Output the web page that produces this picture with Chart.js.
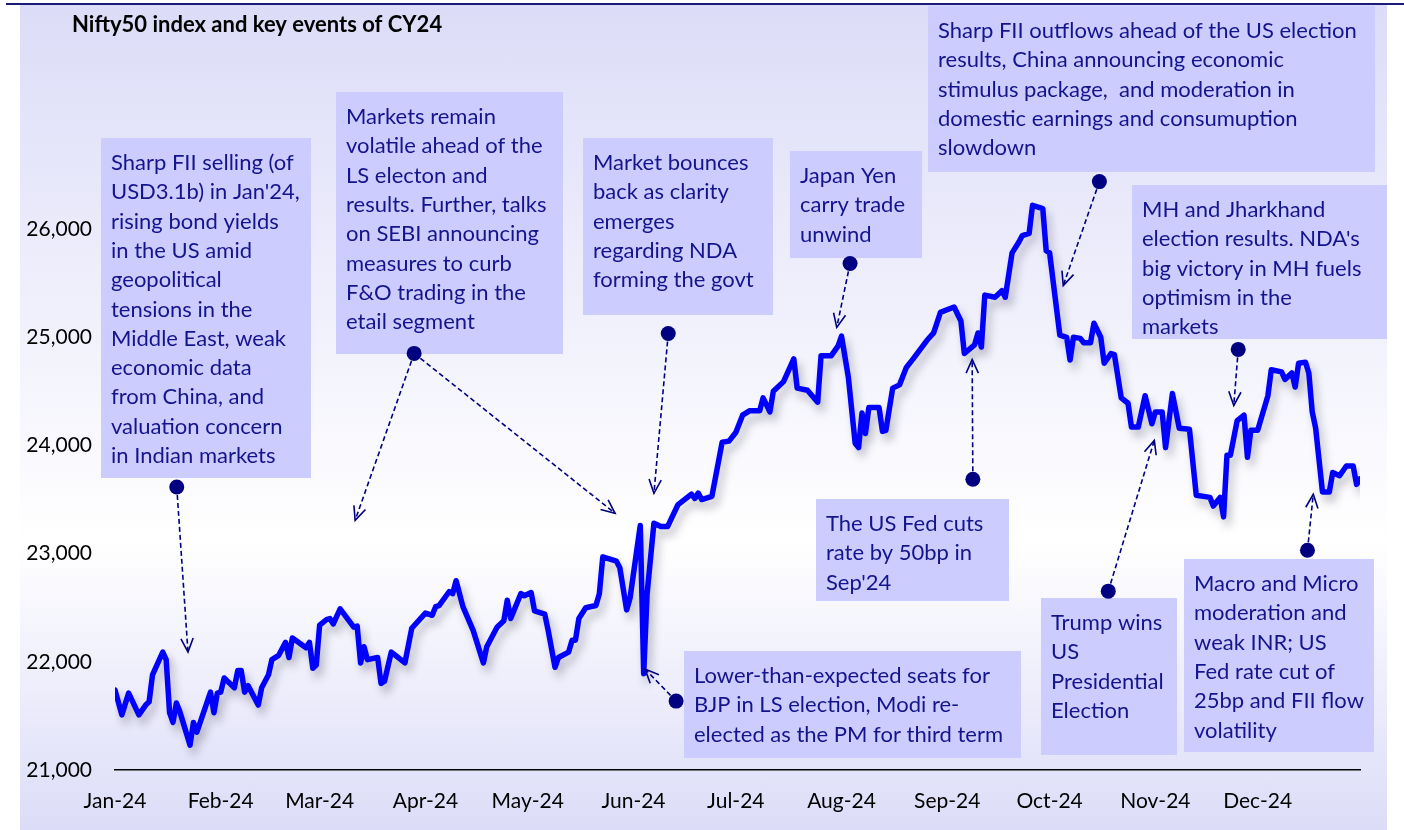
<!DOCTYPE html>
<html>
<head>
<meta charset="utf-8">
<script src="https://cdn.jsdelivr.net/npm/chart.js@4.4.1/dist/chart.umd.min.js"></script>
<style>
  html, body { margin: 0; padding: 0; background: #fff; }
  #wrap { position: relative; width: 1404px; height: 830px; overflow: hidden; }
  #panel { position: absolute; left: 20px; top: 5px; width: 1367px; height: 825px;
    background: linear-gradient(to bottom, #DCDCF8 0%, #FFFFFF 65%, #DCDCF8 100%); }
  #topline { position: absolute; left: 6px; top: 3px; width: 1398px; height: 2px; background: #1A1A7A; }
  canvas { position: absolute; left: 0; top: 0; }
</style>
</head>
<body>
<div id="wrap">
  <div id="panel"></div>
  <div id="topline"></div>
  <canvas id="niftyChart" width="1404" height="830"></canvas>
</div>
<script>
// days since 1 Jan 2024 for each plotted close
const tradeDays = [
  0, 2, 4, 7, 9, 10, 11, 14, 15, 16, 17, 18, 19, 22, 23, 24, 28, 29, 30, 31,
  32, 35, 36, 37, 38, 39, 42, 43, 45, 46, 48, 50, 51, 52, 56, 57, 58, 59, 60, 62,
  63, 64, 66, 70, 71, 72, 73, 74, 77, 78, 79, 81, 85, 87, 91, 93, 94, 95, 98, 99,
  100, 102, 105, 108, 109, 112, 114, 115, 116, 119, 120, 122, 123, 126, 127, 129, 130, 133, 134, 135,
  136, 138, 141, 142, 143, 147, 148, 150, 151, 154, 155, 156, 158, 160, 162, 165, 169, 170, 171, 172,
  175, 178, 180, 182, 184, 186, 189, 190, 192, 193, 196, 199, 200, 203, 206, 207, 210, 212, 213, 215,
  217, 218, 219, 220, 221, 224, 225, 226, 228, 230, 232, 234, 238, 240, 242, 246, 248, 249, 252, 253,
  254, 255, 258, 260, 261, 263, 265, 266, 268, 269, 272, 273, 274, 277, 279, 280, 281, 283, 284, 286,
  287, 289, 290, 292, 293, 295, 297, 298, 300, 302, 304, 305, 307, 308, 310, 312, 315, 317, 321, 322,
  324, 325, 326, 327, 329, 331, 332, 333, 335, 338, 339, 342, 343, 345, 346, 347, 349, 350, 351, 352,
  354, 356, 357, 359, 361, 363, 364, 365
];

// Nifty50 close
const niftyClose = [
  21740, 21510, 21710, 21510, 21600, 21630, 21880, 22090, 22020, 21530, 21440, 21620, 21540, 21230, 21440, 21350, 21720, 21530, 21710, 21720,
  21850, 21760, 21920, 21920, 21720, 21780, 21600, 21760, 21880, 22020, 22060, 22180, 22040, 22220, 22130, 22180, 21940, 21970, 22340, 22390,
  22400, 22350, 22490, 22320, 22330, 21990, 22140, 22020, 22040, 21800, 21820, 22090, 21990, 22310, 22450, 22430, 22510, 22520, 22650, 22630,
  22750, 22510, 22290, 21990, 22140, 22320, 22380, 22570, 22400, 22630, 22610, 22640, 22470, 22440, 22290, 21950, 22040, 22090, 22200, 22200,
  22400, 22500, 22520, 22630, 22970, 22930, 22870, 22480, 22590, 23260, 21890, 22630, 23280, 23250, 23250, 23450, 23550, 23510, 23560, 23500,
  23530, 24030, 24040, 24120, 24280, 24320, 24320, 24440, 24310, 24500, 24590, 24800, 24530, 24510, 24400, 24830, 24830, 24920, 25010, 24630,
  24020, 23980, 24300, 24110, 24350, 24350, 24130, 24140, 24530, 24560, 24720, 24800, 24970, 25040, 25230, 25280, 25150, 24850, 24930, 25040,
  24910, 25390, 25370, 25430, 25370, 25780, 25880, 25940, 25960, 26220, 26190, 25800, 25780, 25020, 25000, 24790, 25000, 24990, 24950, 24950,
  25130, 25000, 24760, 24850, 24840, 24440, 24390, 24170, 24170, 24460, 24200, 24310, 24310, 23980, 24480, 24160, 24150, 23540, 23520, 23440,
  23520, 23340, 23910, 23910, 24230, 24280, 23890, 24140, 24140, 24460, 24700, 24680, 24610, 24670, 24540, 24760, 24770, 24670, 24310, 24160,
  23570, 23570, 23750, 23720, 23810, 23810, 23640, 23690
];

const monthStartDays = [0, 31, 60, 91, 121, 152, 182, 213, 244, 274, 305, 335]; // x tick positions
const monthLabels = ['Jan-24', 'Feb-24', 'Mar-24', 'Apr-24', 'May-24', 'Jun-24', 'Jul-24', 'Aug-24', 'Sep-24', 'Oct-24', 'Nov-24', 'Dec-24'];
const valueTicks = [21000, 22000, 23000, 24000, 25000, 26000];

const chartTitle = 'Nifty50 index and key events of CY24';

// event notes: box in page px, dot and arrow tips in chart values (day, index level)
const eventNotes = [
  { box: [101, 138, 210, 340], lines: ['Sharp FII selling (of', "USD3.1b) in Jan'24,", 'rising bond yields', 'in the US amid', 'geopolitical', 'tensions in the', 'Middle East, weak', 'economic data', 'from China, and', 'valuation concern', 'in Indian markets'],
    dot: [18.1, 23616], tips: [[21.4, 22090]] },
  { box: [336, 92, 227, 262], lines: ['Markets remain', 'volatile ahead of the', 'LS electon and', 'results. Further, talks', 'on SEBI announcing', 'measures to curb', 'F&O trading in the', 'etail segment'],
    dot: [87.7, 24851], tips: [[70.4, 23308], [146.6, 23373]] },
  { box: [583, 138, 190, 177], lines: ['Market bounces', 'back as clarity', 'emerges', 'regarding NDA', 'forming the govt'],
    dot: [162.2, 25035], tips: [[158, 23558]] },
  { box: [790, 151, 132, 107], lines: ['Japan Yen', 'carry trade', 'unwind'],
    dot: [215.5, 25682], tips: [[211.6, 25091]] },
  { box: [928, 6, 447, 166], lines: ['Sharp FII outflows ahead of the US election', 'results, China announcing economic', 'stimulus package,  and moderation in', 'domestic earnings and consumuption', 'slowdown'],
    dot: [288.6, 26439], tips: [[278, 25478]] },
  { box: [1132, 185, 255, 154], lines: ['MH and Jharkhand', "election results. NDA's", 'big victory in MH fuels', 'optimism in the', 'markets'],
    dot: [329.3, 24888], tips: [[328, 24370]] },
  { box: [816, 499, 193, 102], lines: ['The US Fed cuts', 'rate by 50bp in', "Sep'24"],
    dot: [251.5, 23687], tips: [[251.3, 24795]] },
  { box: [1041, 598, 136, 157], lines: ['Trump wins', 'US', 'Presidential', 'Election'],
    dot: [291.2, 22653], tips: [[304.7, 24047]] },
  { box: [1184, 559, 190, 193], lines: ['Macro and Micro', 'moderation and', 'weak INR; US', 'Fed rate cut of', '25bp and FII flow', 'volatility'],
    dot: [349.6, 23031], tips: [[351.3, 23549]] },
  { box: [684, 651, 337, 107], lines: ['Lower-than-expected seats for', 'BJP in LS election, Modi re-', 'elected as the PM for third term'],
    dot: [164.5, 21637], tips: [[155.4, 21933]] }
];

const noteFont = '22px Lato';
const navy = '#000080';

/** dashed arrow with an open head at (x2, y2) */
function drawArrow(ctx, x1, y1, x2, y2) {
    ctx.save();
    ctx.strokeStyle = navy;
    ctx.lineWidth = 1.6;
    ctx.setLineDash([5, 3]);
    ctx.beginPath();
    ctx.moveTo(x1, y1);
    ctx.lineTo(x2, y2);
    ctx.stroke();
    ctx.setLineDash([]);
    const ang = Math.atan2(y2 - y1, x2 - x1);
    const len = 15, spread = 0.42;
    ctx.beginPath();
    ctx.moveTo(x2 - len * Math.cos(ang - spread), y2 - len * Math.sin(ang - spread));
    ctx.lineTo(x2, y2);
    ctx.lineTo(x2 - len * Math.cos(ang + spread), y2 - len * Math.sin(ang + spread));
    ctx.stroke();
    ctx.restore();
}

// soft drop shadow under the index line
const lineShadow = {
    id: 'lineShadow',
    beforeDatasetsDraw(chart) {
        const c = chart.ctx;
        c.save();
        c.shadowColor = 'rgba(40, 40, 60, 0.28)';
        c.shadowBlur = 9;
        c.shadowOffsetX = 4;
        c.shadowOffsetY = 7;
    },
    afterDatasetsDraw(chart) {
        chart.ctx.restore();
    }
};

// title, boxes, dots and arrows
const eventLayer = {
    id: 'eventLayer',
    afterDraw(chart) {
        const ctx = chart.ctx;
        const xs = chart.scales.x, ys = chart.scales.y;

        ctx.save();
        ctx.fillStyle = '#000';
        ctx.font = 'bold 22px Lato';
        ctx.textBaseline = 'middle';
        ctx.fillText(chartTitle, 72, 25);

        eventNotes.forEach(note => {
            const [bx, by, bw, bh] = note.box;
            ctx.fillStyle = '#CCCCFF';
            ctx.fillRect(bx, by, bw, bh);
            ctx.fillStyle = '#14148C';
            ctx.font = noteFont;
            ctx.textBaseline = 'middle';
            note.lines.forEach((line, i) => {
                ctx.fillText(line, bx + 10, by + 25 + i * 29.3);
            });
        });

        eventNotes.forEach(note => {
            const dx = xs.getPixelForValue(note.dot[0]);
            const dy = ys.getPixelForValue(note.dot[1]);
            note.tips.forEach(t => {
                drawArrow(ctx, dx, dy, xs.getPixelForValue(t[0]), ys.getPixelForValue(t[1]));
            });
            ctx.fillStyle = navy;
            ctx.beginPath();
            ctx.arc(dx, dy, 7.5, 0, Math.PI * 2);
            ctx.fill();
        });
        ctx.restore();
    }
};

const points = tradeDays.map((d, i) => ({ x: d, y: niftyClose[i] }));

new Chart(document.getElementById('niftyChart'), {
    type: 'line',
    data: {
        datasets: [{
            label: 'Nifty50',
            data: points,
            borderColor: '#0000FF',
            borderWidth: 5.5,
            borderJoinStyle: 'round',
            borderCapStyle: 'round',
            pointRadius: 0,
            tension: 0,
            fill: false
        }]
    },
    options: {
        responsive: false,
        animation: false,
        layout: { padding: { left: 0, right: 44, top: 175, bottom: 0 } },
        plugins: { legend: { display: false }, tooltip: { enabled: false } },
        scales: {
            x: {
                type: 'linear',
                min: 0,
                max: 365,
                grid: { display: false, drawTicks: false },
                border: { display: true, color: '#000', width: 1.5 },
                afterBuildTicks: scale => { scale.ticks = monthStartDays.map(v => ({ value: v })); },
                afterFit: scale => { scale.height = 60; },
                ticks: {
                    autoSkip: false,
                    maxRotation: 0,
                    padding: 19,
                    color: '#000',
                    font: { family: 'Lato', size: 21 },
                    callback: v => monthLabels[monthStartDays.indexOf(v)]
                }
            },
            y: {
                min: 21000,
                max: 26500,
                grid: { display: false, drawTicks: false },
                border: { display: false },
                afterBuildTicks: scale => { scale.ticks = valueTicks.map(v => ({ value: v })); },
                afterFit: scale => { scale.width = 115; },
                ticks: {
                    padding: 23,
                    color: '#000',
                    font: { family: 'Lato', size: 21 },
                    callback: v => v.toLocaleString('en-US')
                }
            }
        }
    },
    plugins: [lineShadow, eventLayer]
});
</script>
</body>
</html>
